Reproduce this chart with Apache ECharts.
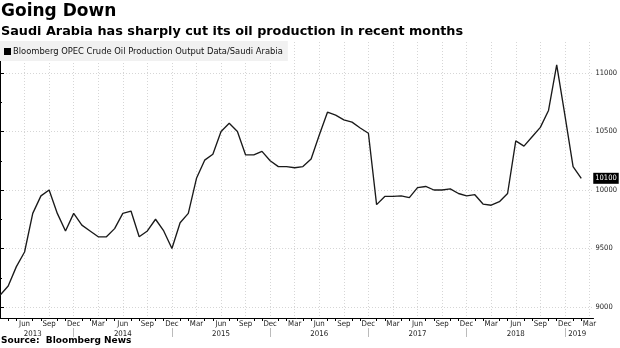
<!DOCTYPE html>
<html>
<head>
<meta charset="utf-8">
<script src="https://cdn.jsdelivr.net/npm/echarts@6/dist/echarts.min.js"></script>
<style>html,body{margin:0;padding:0;background:#fff;}#c{width:620px;height:348px;}</style>
</head>
<body>
<div id="c"></div>
<script>
// Months of data (Mar 2013 .. Feb 2019), thousand barrels/day
const months = [
 'Mar 2013','Apr 2013','May 2013','Jun 2013','Jul 2013','Aug 2013','Sep 2013','Oct 2013','Nov 2013','Dec 2013',
 'Jan 2014','Feb 2014','Mar 2014','Apr 2014','May 2014','Jun 2014','Jul 2014','Aug 2014','Sep 2014','Oct 2014','Nov 2014','Dec 2014',
 'Jan 2015','Feb 2015','Mar 2015','Apr 2015','May 2015','Jun 2015','Jul 2015','Aug 2015','Sep 2015','Oct 2015','Nov 2015','Dec 2015',
 'Jan 2016','Feb 2016','Mar 2016','Apr 2016','May 2016','Jun 2016','Jul 2016','Aug 2016','Sep 2016','Oct 2016','Nov 2016','Dec 2016',
 'Jan 2017','Feb 2017','Mar 2017','Apr 2017','May 2017','Jun 2017','Jul 2017','Aug 2017','Sep 2017','Oct 2017','Nov 2017','Dec 2017',
 'Jan 2018','Feb 2018','Mar 2018','Apr 2018','May 2018','Jun 2018','Jul 2018','Aug 2018','Sep 2018','Oct 2018','Nov 2018','Dec 2018',
 'Jan 2019','Feb 2019'
];
const production = [
 9100, 9180, 9345, 9470, 9800, 9950, 10000, 9800, 9650, 9800,
 9700, 9650, 9600, 9600, 9670, 9800, 9820, 9600, 9650, 9750, 9650, 9500,
 9720, 9800, 10100, 10255, 10305, 10500, 10570, 10500, 10300, 10300, 10330, 10250,
 10200, 10200, 10190, 10200, 10265, 10470, 10665, 10640, 10600, 10580, 10530, 10485,
 9875, 9945, 9945, 9950, 9935, 10020, 10030, 10000, 10000, 10010, 9970, 9950,
 9960, 9880, 9870, 9900, 9970, 10420, 10375, 10455, 10535, 10680, 11070, 10640,
 10200, 10100
];
// Quarterly tick labels (Jun 2013 .. Mar 2019)
const quarterLabels = ['Jun','Sep','Dec','Mar','Jun','Sep','Dec','Mar','Jun','Sep','Dec','Mar',
  'Jun','Sep','Dec','Mar','Jun','Sep','Dec','Mar','Jun','Sep','Dec','Mar'];
const yearLabels = ['2013','2014','2015','2016','2017','2018','2019'];
const yTickLabels = [9000, 9500, 10000, 10500, 11000];

const seriesName = 'Bloomberg OPEC Crude Oil Production Output Data/Saudi Arabia';
const narrow = "'DejaVu Sans Condensed','DejaVu Sans',sans-serif";
const boldFont = "'DejaVu Sans',Verdana,sans-serif";

// positions on the month-index scale
const quarterPos = quarterLabels.map((_, i) => 3 + 3 * i);
const monthTickPos = [];
for (let i = 0; i <= 72; i++) if (i % 3 !== 0) monthTickPos.push(i);
const yearPos = [4, 15, 27, 39, 51, 63, 70.5];
const yearSepPos = [9, 21, 33, 45, 57, 69];

const data = production.map((v, i) => [i, v]);

const chart = echarts.init(document.getElementById('c'), null, {renderer: 'canvas'});
const grid = {left: 0, right: 25, top: 42, bottom: 30, containLabel: false};
const xBase = {type: 'value', min: 0, max: 72.5, gridIndex: 0, position: 'bottom'};

chart.setOption({
  animation: false,
  backgroundColor: '#fff',
  title: [
    {text: 'Going Down', left: -1, top: 1, padding: [2, 2],
     textStyle: {fontFamily: boldFont, fontWeight: 'bold', fontSize: 17, color: '#000'}},
    {text: 'Saudi Arabia has sharply cut its oil production in recent months', left: -1, top: 23, padding: [2, 2],
     textStyle: {fontFamily: boldFont, fontWeight: 'bold', fontSize: 12.8, color: '#000'}},
    {text: 'Source:  Bloomberg News', left: -1, top: 334, padding: [2, 2],
     textStyle: {fontFamily: boldFont, fontWeight: 'bold', fontSize: 9, color: '#000'}}
  ],
  legend: {
    left: 0, top: 41, padding: [6, 5, 5, 4],
    backgroundColor: '#f1f1f1',
    icon: 'rect', itemWidth: 7, itemHeight: 7, itemGap: 2,
    textStyle: {fontFamily: narrow, fontSize: 9.3, color: '#111', padding: [0, 0, 0, -3]},
    data: [seriesName]
  },
  grid: grid,
  xAxis: [
    Object.assign({}, xBase, {
      axisLine: {show: true, lineStyle: {color: '#000', width: 1}},
      axisTick: {show: false, customValues: quarterPos},
      axisLabel: {show: true, customValues: quarterPos, margin: 2, fontFamily: narrow, fontSize: 7.8, color: '#222',
        formatter: v => quarterLabels[Math.round(v / 3) - 1]},
      splitLine: {show: true, lineStyle: {color: '#d6d6d6', type: [1, 2], width: 1}}
    }),
    Object.assign({}, xBase, {
      axisLine: {show: false},
      axisTick: {show: true, customValues: monthTickPos, length: 3, lineStyle: {color: '#000'}},
      axisLabel: {show: false},
      splitLine: {show: false}
    }),
    Object.assign({}, xBase, {
      offset: 10,
      axisLine: {show: false},
      axisTick: {show: true, customValues: yearSepPos, length: 9, lineStyle: {color: '#bbb'}},
      axisLabel: {show: true, customValues: yearPos, margin: 2, fontFamily: narrow, fontSize: 7.8, color: '#222',
        formatter: v => yearLabels[yearPos.indexOf(v)]},
      splitLine: {show: false}
    })
  ],
  yAxis: {
    type: 'value', position: 'right', min: 8906, max: 11265,
    axisLine: {show: true, lineStyle: {color: '#000'}},
    axisTick: {show: true, inside: false, length: 4, lineStyle: {color: '#000'}},
    minorTick: {show: true, splitNumber: 2, length: 2, lineStyle: {color: '#000'}},
    axisLabel: {show: true, customValues: yTickLabels, margin: 2, fontFamily: narrow, fontSize: 7.5, color: '#222',
      formatter: v => String(v)},
    splitLine: {show: true, showMinLine: false, showMaxLine: false, lineStyle: {color: '#d6d6d6', type: [1, 2], width: 1}}
  },
  series: [{
    name: seriesName, type: 'line', xAxisIndex: 0, data: data,
    showSymbol: false, symbol: 'none',
    lineStyle: {color: '#1a1a1a', width: 1.35},
    itemStyle: {color: '#000'},
    endLabel: {show: true, distance: 12, formatter: p => String(p.value[1]),
      backgroundColor: '#000', color: '#fff', fontFamily: narrow, fontSize: 7.5, padding: [2, 2, 1, 2]}
  }]
});
</script>
</body>
</html>
